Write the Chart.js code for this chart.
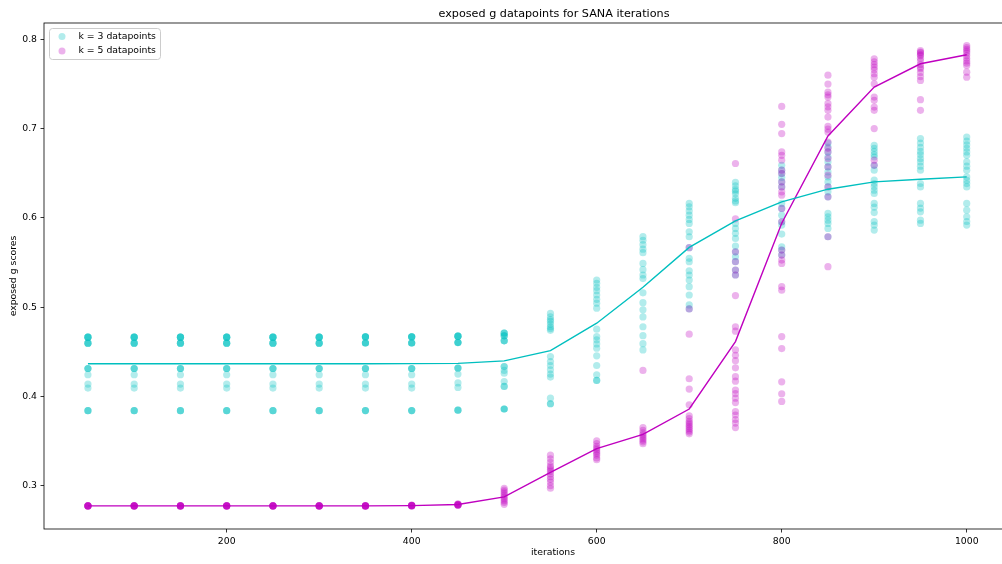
<!DOCTYPE html>
<html>
<head>
<meta charset="utf-8">
<title>exposed g datapoints for SANA iterations</title>
<script src="https://cdn.jsdelivr.net/npm/chart.js@4/dist/chart.umd.min.js"></script>
<style>
  html, body { margin: 0; padding: 0; background: #fff; overflow: hidden; }
  #wrap { width: 1108px; height: 564px; }
  canvas { display: block; }
</style>
</head>
<body>
<div id="wrap"><canvas id="chart" width="1108" height="564"></canvas></div>
<script>
// SANA iteration counts (x positions)
const iterations = [50, 100, 150, 200, 250, 300, 350, 400, 450, 500,
                    550, 600, 650, 700, 750, 800, 850, 900, 950, 1000];

// exposed g scores of every k = 3 run, one list per iteration count
const k3Scores = [
  [0.4663,0.4663,0.4663,0.4663,0.4663,0.4596,0.4596,0.4596,0.4596,0.4312,0.4312,0.4312,0.4242,0.4138,0.4093,0.3839,0.3839,0.3839],
  [0.4663,0.4663,0.4663,0.4663,0.4663,0.4596,0.4596,0.4596,0.4596,0.4312,0.4312,0.4312,0.4242,0.4138,0.4093,0.3839,0.3839,0.3839],
  [0.4663,0.4663,0.4663,0.4663,0.4663,0.4596,0.4596,0.4596,0.4596,0.4312,0.4312,0.4312,0.4242,0.4138,0.4093,0.3839,0.3839,0.3839],
  [0.4663,0.4663,0.4663,0.4663,0.4663,0.4596,0.4596,0.4596,0.4596,0.4312,0.4312,0.4312,0.4242,0.4138,0.4093,0.3839,0.3839,0.3839],
  [0.4663,0.4663,0.4663,0.4663,0.4663,0.4596,0.4596,0.4596,0.4596,0.4312,0.4312,0.4312,0.4242,0.4138,0.4093,0.3839,0.3839,0.3839],
  [0.4663,0.4663,0.4663,0.4663,0.4663,0.4596,0.4596,0.4596,0.4596,0.4312,0.4312,0.4312,0.4242,0.4138,0.4093,0.3839,0.3839,0.3839],
  [0.4668,0.4668,0.4668,0.4668,0.4668,0.4598,0.4598,0.4598,0.4598,0.4312,0.4312,0.4312,0.4242,0.4138,0.4093,0.3841,0.3841,0.3841],
  [0.4668,0.4668,0.4668,0.4668,0.4668,0.4598,0.4598,0.4598,0.4598,0.4312,0.4312,0.4312,0.4242,0.4138,0.4093,0.3841,0.3841,0.3841],
  [0.4675,0.4675,0.4675,0.4675,0.4675,0.4603,0.4603,0.4603,0.4603,0.4318,0.4318,0.4318,0.4250,0.4150,0.4100,0.3845,0.3845,0.3845],
  [0.4708,0.4708,0.4708,0.4678,0.4678,0.4678,0.4622,0.4622,0.4622,0.4334,0.4334,0.4290,0.4260,0.4166,0.4111,0.4111,0.3858,0.3858,0.3858],
  [0.4930,0.4890,0.4860,0.4840,0.4810,0.4780,0.4760,0.4740,0.4446,0.4390,0.4346,0.4298,0.4250,0.4216,0.3980,0.3917,0.3917],
  [0.5304,0.5267,0.5222,0.5185,0.5136,0.5088,0.5044,0.4988,0.4753,0.4670,0.4633,0.4588,0.4540,0.4454,0.4346,0.4242,0.4178,0.4178],
  [0.5790,0.5750,0.5700,0.5650,0.5610,0.5490,0.5420,0.5360,0.5320,0.5160,0.5050,0.4970,0.4890,0.4780,0.4680,0.4590,0.4520],
  [0.6162,0.6124,0.6079,0.6031,0.5983,0.5938,0.5845,0.5789,0.5666,0.5547,0.5509,0.5408,0.5360,0.5304,0.5229,0.5136,0.5025,0.4980],
  [0.6400,0.6360,0.6320,0.6300,0.6270,0.6220,0.6190,0.6170,0.5938,0.5882,0.5827,0.5770,0.5685,0.5620,0.5565,0.5510,0.5416,0.5360],
  [0.6590,0.6535,0.6497,0.6453,0.6404,0.6348,0.6162,0.6106,0.6031,0.5957,0.5920,0.5819,0.5677,0.5640,0.5584],
  [0.6840,0.6795,0.6740,0.6683,0.6628,0.6572,0.6516,0.6460,0.6404,0.6348,0.6292,0.6236,0.6050,0.6013,0.5975,0.5938,0.5882,0.5789],
  [0.6814,0.6780,0.6745,0.6710,0.6683,0.6590,0.6535,0.6423,0.6385,0.6350,0.6310,0.6274,0.6162,0.6120,0.6060,0.5960,0.5920,0.5864],
  [0.6889,0.6840,0.6790,0.6745,0.6710,0.6666,0.6628,0.6580,0.6535,0.6386,0.6348,0.6162,0.6110,0.6068,0.5975,0.5938],
  [0.6907,0.6860,0.6820,0.6780,0.6740,0.6702,0.6628,0.6580,0.6535,0.6460,0.6420,0.6385,0.6348,0.6162,0.6087,0.6013,0.5960,0.5920]
];

// exposed g scores of every k = 5 run, one list per iteration count
const k5Scores = [
  [0.2768,0.2770,0.2771,0.2772,0.2772,0.2773,0.2774,0.2776],
  [0.2768,0.2770,0.2771,0.2772,0.2772,0.2773,0.2774,0.2776],
  [0.2768,0.2770,0.2771,0.2772,0.2772,0.2773,0.2774,0.2776],
  [0.2768,0.2770,0.2771,0.2772,0.2772,0.2773,0.2774,0.2776],
  [0.2768,0.2770,0.2771,0.2772,0.2772,0.2773,0.2774,0.2776],
  [0.2768,0.2770,0.2771,0.2772,0.2772,0.2773,0.2774,0.2776],
  [0.2768,0.2770,0.2771,0.2772,0.2772,0.2773,0.2774,0.2776],
  [0.2770,0.2772,0.2774,0.2775,0.2776,0.2777,0.2778,0.2780],
  [0.2778,0.2780,0.2782,0.2784,0.2786,0.2788,0.2790,0.2795],
  [0.2790,0.2810,0.2830,0.2850,0.2870,0.2890,0.2910,0.2930,0.2950,0.2970],
  [0.3340,0.3300,0.3260,0.3220,0.3200,0.3180,0.3160,0.3130,0.3100,0.3070,0.3040,0.3000,0.2970],
  [0.3500,0.3470,0.3440,0.3420,0.3400,0.3380,0.3360,0.3340,0.3310,0.3290],
  [0.4290,0.3650,0.3620,0.3590,0.3570,0.3550,0.3530,0.3510,0.3490,0.3470],
  [0.5666,0.4980,0.4697,0.4197,0.4082,0.3906,0.3780,0.3750,0.3720,0.3700,0.3680,0.3660,0.3640,0.3620,0.3600,0.3580],
  [0.6610,0.5990,0.5620,0.5510,0.5416,0.5360,0.5130,0.4780,0.4730,0.4520,0.4460,0.4400,0.4320,0.4220,0.4170,0.4070,0.4030,0.3980,0.3930,0.3830,0.3790,0.3740,0.3700,0.3650],
  [0.7250,0.7049,0.6945,0.6740,0.6702,0.6647,0.6535,0.6497,0.6404,0.6348,0.6292,0.6255,0.6106,0.5957,0.5640,0.5584,0.5528,0.5490,0.5230,0.5190,0.4670,0.4536,0.4163,0.4029,0.3943],
  [0.7600,0.7500,0.7410,0.7380,0.7355,0.7284,0.7245,0.7206,0.7131,0.7027,0.6995,0.6963,0.6851,0.6780,0.6740,0.6665,0.6572,0.6479,0.6348,0.6236,0.5789,0.5453],
  [0.7784,0.7750,0.7720,0.7690,0.7660,0.7616,0.7578,0.7504,0.7355,0.7318,0.7243,0.7206,0.7001,0.6647,0.6590],
  [0.7877,0.7860,0.7850,0.7830,0.7820,0.7790,0.7760,0.7720,0.7690,0.7672,0.7630,0.7585,0.7541,0.7325,0.7206],
  [0.7933,0.7910,0.7890,0.7870,0.7850,0.7820,0.7790,0.7760,0.7735,0.7709,0.7634,0.7578]
];

// average score per iteration count
const k3Mean = [0.4365, 0.4365, 0.4365, 0.4365, 0.4365, 0.4365, 0.4366, 0.4367, 0.4370, 0.4398,
                0.4513, 0.4820, 0.5222, 0.5670, 0.5968, 0.6180, 0.6322, 0.6404, 0.6434, 0.6460];
const k5Mean = [0.2772, 0.2772, 0.2772, 0.2772, 0.2772, 0.2772, 0.2772, 0.2775, 0.2787, 0.2873,
                0.3149, 0.3414, 0.3574, 0.3858, 0.4614, 0.5940, 0.6918, 0.7467, 0.7728, 0.7829];

const xTicks = [200, 400, 600, 800, 1000];
const yTicks = [0.3, 0.4, 0.5, 0.6, 0.7, 0.8];

const seriesLabels = ['k = 3 datapoints', 'k = 5 datapoints'];
const CYAN = '#00bfbf';
const MAGENTA = '#bf00bf';
const CYAN_A = 'rgba(0,191,191,0.3)';
const MAGENTA_A = 'rgba(191,0,191,0.3)';
const FONT = '"DejaVu Sans", sans-serif';

function scatterPoints(scores) {
  const pts = [];
  iterations.forEach((it, i) => scores[i].forEach(v => pts.push({ x: it, y: v })));
  return pts;
}
function linePoints(means) {
  return iterations.map((it, i) => ({ x: it, y: means[i] }));
}

// axes frame and in-plot legend
const framePlugin = {
  id: 'frame',
  afterDatasetsDraw(chart) {
    const { ctx, chartArea: a } = chart;
    ctx.save();
    ctx.strokeStyle = '#000';
    ctx.lineWidth = 0.8;
    ctx.strokeRect(a.left, a.top, a.right - a.left, a.bottom - a.top);
    ctx.restore();
  },
  afterDraw(chart) {
    const { ctx, chartArea: a } = chart;
    const bx = a.left + 5.5, by = a.top + 5.5, bw = 111, bh = 31, r = 3;
    ctx.save();
    ctx.beginPath();
    ctx.moveTo(bx + r, by);
    ctx.lineTo(bx + bw - r, by);
    ctx.quadraticCurveTo(bx + bw, by, bx + bw, by + r);
    ctx.lineTo(bx + bw, by + bh - r);
    ctx.quadraticCurveTo(bx + bw, by + bh, bx + bw - r, by + bh);
    ctx.lineTo(bx + r, by + bh);
    ctx.quadraticCurveTo(bx, by + bh, bx, by + bh - r);
    ctx.lineTo(bx, by + r);
    ctx.quadraticCurveTo(bx, by, bx + r, by);
    ctx.closePath();
    ctx.fillStyle = 'rgba(255,255,255,0.8)';
    ctx.fill();
    ctx.strokeStyle = '#cccccc';
    ctx.lineWidth = 1;
    ctx.stroke();
    const fills = [CYAN_A, MAGENTA_A];
    ctx.font = '9.3px ' + FONT;
    ctx.textBaseline = 'middle';
    ctx.textAlign = 'left';
    seriesLabels.forEach((lab, i) => {
      const cy = by + 8 + i * 14.5;
      ctx.beginPath();
      ctx.arc(bx + 12.5, cy, 3.5, 0, Math.PI * 2);
      ctx.fillStyle = fills[i];
      ctx.fill();
      ctx.fillStyle = '#000';
      ctx.fillText(lab, bx + 29, cy);
    });
    ctx.restore();
  }
};

new Chart(document.getElementById('chart'), {
  type: 'scatter',
  data: {
    datasets: [
      { label: 'k = 3 mean', data: linePoints(k3Mean), showLine: true, borderColor: CYAN,
        borderWidth: 1.4, pointRadius: 0, fill: false, tension: 0, order: 0 },
      { label: 'k = 5 mean', data: linePoints(k5Mean), showLine: true, borderColor: MAGENTA,
        borderWidth: 1.4, pointRadius: 0, fill: false, tension: 0, order: 0 },
      { label: seriesLabels[1], data: scatterPoints(k5Scores), showLine: false,
        pointRadius: 3.6, pointBorderWidth: 0, backgroundColor: MAGENTA_A,
        borderColor: 'rgba(0,0,0,0)', order: 1 },
      { label: seriesLabels[0], data: scatterPoints(k3Scores), showLine: false,
        pointRadius: 3.6, pointBorderWidth: 0, backgroundColor: CYAN_A,
        borderColor: 'rgba(0,0,0,0)', order: 2 }
    ]
  },
  options: {
    responsive: false,
    animation: false,
    devicePixelRatio: 1,
    events: [],
    layout: { padding: 0 },
    plugins: {
      legend: { display: false },
      tooltip: { enabled: false },
      title: {
        display: true,
        text: 'exposed g datapoints for SANA iterations',
        color: '#000',
        font: { family: FONT, size: 11.2, weight: 'normal' },
        padding: { top: 7, bottom: 2.56 }
      }
    },
    scales: {
      x: {
        type: 'linear',
        min: 2.5,
        max: 1103,
        afterBuildTicks(scale) { scale.ticks = xTicks.map(v => ({ value: v })); },
        afterFit(scale) { scale.height = 35; },
        grid: { display: true, drawOnChartArea: false, drawTicks: true, tickLength: 3.5,
                color: '#000', lineWidth: 0.8 },
        border: { display: false },
        ticks: { color: '#000', font: { family: FONT, size: 9.3 }, padding: 3.5,
                 maxRotation: 0, autoSkip: false, callback: v => String(v) },
        title: { display: true, text: 'iterations', color: '#000',
                 font: { family: FONT, size: 9.3 }, padding: { top: 0, bottom: 5.4 } }
      },
      y: {
        type: 'linear',
        min: 0.2513,
        max: 0.8185,
        afterBuildTicks(scale) { scale.ticks = yTicks.map(v => ({ value: v })); },
        afterFit(scale) { scale.width = 44; },
        grid: { display: true, drawOnChartArea: false, drawTicks: true, tickLength: 3.5,
                color: '#000', lineWidth: 0.8 },
        border: { display: false },
        ticks: { color: '#000', font: { family: FONT, size: 9.3 }, padding: 3.5,
                 autoSkip: false, callback: v => v.toFixed(1) },
        title: { display: true, text: 'exposed g scores', color: '#000',
                 font: { family: FONT, size: 9.3 }, padding: { top: 8.4, bottom: 0 } }
      },
      // empty right-hand margin so the title centres over the plot frame
      yRight: {
        type: 'linear',
        position: 'right',
        min: 0,
        max: 1,
        afterFit(scale) { scale.width = 46; },
        grid: { display: false },
        border: { display: false },
        ticks: { display: false }
      }
    }
  },
  plugins: [framePlugin]
});
</script>
</body>
</html>
